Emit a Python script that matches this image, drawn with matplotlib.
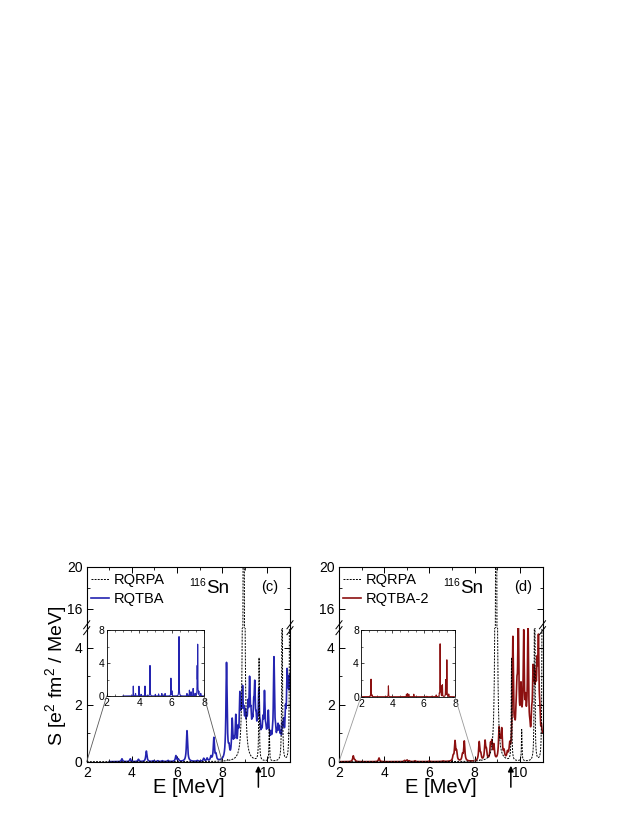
import numpy as np
import matplotlib.pyplot as plt
from matplotlib.lines import Line2D
from matplotlib.patches import ConnectionPatch
from matplotlib.ticker import FixedLocator, MultipleLocator

plt.rcParams['font.family'] = ['Liberation Sans', 'DejaVu Sans']
plt.rcParams['mathtext.fontset'] = 'custom'
plt.rcParams['mathtext.rm'] = 'Liberation Sans'
plt.rcParams['mathtext.it'] = 'Liberation Sans:italic'

# RQRPA peaks (same in both panels): energy [MeV], peak height
rqrpa_e = [8.25, 8.95, 9.63, 10.08, 10.65, 10.99]
rqrpa_s = [0.05, 90.0, 3.6, 1.1, 8.0, 10.0]

# panel (c): RQTBA, main plot
rqtba_e = [3.56, 3.93, 4.29, 4.64, 4.95, 5.15, 5.35, 5.6, 5.95, 6.05, 6.44, 6.9,
           7.18, 7.33, 7.5, 7.63, 7.72, 8.19, 8.3, 8.44, 8.52, 8.6, 8.7, 8.78,
           8.84, 8.9, 8.96, 9.02, 9.08, 9.14, 9.21, 9.27, 9.33, 9.39, 9.44, 9.5,
           9.56, 9.62, 9.68, 9.74, 9.8, 9.87, 9.93, 9.98, 10.04, 10.1, 10.16,
           10.22, 10.29, 10.36, 10.42, 10.47, 10.53, 10.59, 10.66, 10.72, 10.8,
           10.87, 10.93, 10.99]
rqtba_s = [0.10, 0.10, 0.08, 0.37, 0.03, 0.03, 0.03, 0.04, 0.20, 0.08, 1.08, 0.03,
           0.10, 0.10, 0.15, 0.80, 0.20, 3.40, 0.30, 1.30, 0.45, 1.35, 0.75, 1.90,
           0.95, 1.95, 1.05, 1.10, 0.85, 1.35, 2.30, 1.00, 0.75, 1.20, 2.05, 0.85,
           0.75, 2.00, 0.65, 0.55, 0.95, 2.00, 0.55, 0.45, 1.35, 0.45, 0.55,
           0.35, 3.35, 0.55, 0.45, 0.80, 0.75, 0.55, 0.85, 0.95, 1.25,
           2.45, 1.90, 2.45]
# panel (c): inset (low-energy part, fine resolution)
rqtba_ins_e = [3.64, 3.78, 3.99, 4.12, 4.36, 4.67, 5.0, 5.2, 5.4, 5.6, 5.96, 6.02,
               6.46, 6.95, 7.1, 7.2, 7.33, 7.45, 7.58, 7.61, 7.68, 7.8]
rqtba_ins_s = [1.2, 0.3, 1.18, 0.2, 1.2, 3.7, 0.2, 0.25, 0.3, 0.3, 2.15, 0.6,
               7.2, 0.3, 0.7, 0.5, 0.9, 0.3, 3.3, 6.05, 0.5, 0.3]

# panel (d): RQTBA-2, main plot
rqtba2_e = [2.63, 2.7, 3.77, 4.9, 5.0, 5.1, 5.36, 6.0, 6.6, 7.05, 7.13, 7.2,
            7.46, 7.54, 8.2, 8.27, 8.46, 8.52, 8.7, 8.76, 8.85, 9.08, 9.14, 9.2,
            9.3, 9.45, 9.55, 9.69, 9.77, 9.83, 9.87, 9.93, 10.0, 10.05, 10.11,
            10.17, 10.25, 10.3, 10.36, 10.44, 10.52, 10.58, 10.64, 10.7, 10.76,
            10.82, 10.88, 10.95, 11.0]
rqtba2_s = [0.20, 0.05, 0.13, 0.04, 0.05, 0.03, 0.03, 0.02, 0.02, 0.15, 0.67, 0.30,
            0.20, 0.69, 0.65, 0.20, 0.65, 0.30, 0.50, 0.58, 0.50, 1.03, 0.40, 0.97,
            0.25, 0.20, 0.40, 4.10, 0.50, 0.80, 1.50, 4.40, 0.40, 1.90, 0.50,
            3.95, 1.30, 0.40, 4.40, 0.50, 0.90, 2.40, 2.10, 1.80, 2.30,
            3.50, 1.00, 0.70, 0.60]
# panel (d): inset
rqtba2_ins_e = [2.64, 2.7, 3.75, 4.9, 4.97, 5.05, 5.37, 6.2, 6.5, 6.8, 7.0, 7.05,
                7.1, 7.2, 7.4, 7.48, 7.6]
rqtba2_ins_s = [2.1, 0.2, 1.3, 0.3, 0.35, 0.3, 0.3, 0.05, 0.05, 0.2, 0.3, 6.3,
                1.2, 1.4, 2.0, 4.4, 0.3]


def strength(grid, e, s, w):
    e = np.asarray(e)[:, None]
    s = np.asarray(s)[:, None]
    return (s * w ** 2 / ((grid[None, :] - e) ** 2 + w ** 2)).sum(axis=0)


W = 638
H = 825
fig = plt.figure(figsize=(W / 100, H / 100), dpi=100)


def fx(px):
    return px / W


def fy(py):
    return 1 - py / H


def breakmarks(ax):
    for xa in (0, 1):
        for dy in (-0.022, 0.022):
            ax.plot([xa - 0.015, xa + 0.015], [1 + dy - 0.03, 1 + dy + 0.03],
                    transform=ax.transAxes, color='k', lw=0.7, clip_on=False)


def panel(x0, x1, name, color, e_main, s_main, e_ins, s_ins, start, tag,
          ins_box, conn_color, sn_x, tag_x, ylabel):
    up = fig.add_axes([fx(x0), fy(627.7), fx(x1 - x0), fy(566.7) - fy(627.7)])
    lo = fig.add_axes([fx(x0), fy(761.7), fx(x1 - x0), fy(627.7) - fy(761.7)])

    g_rpa = np.arange(2.0, 11.2, 0.001)
    y_rpa = strength(g_rpa, rqrpa_e, rqrpa_s, 0.015)
    g = np.arange(start, 11.2, 0.002)
    y = strength(g, e_main, s_main, 0.03)

    for ax in (up, lo):
        ax.plot(g, y, color=color, lw=1.2)
        ax.plot(g_rpa, y_rpa, color='k', lw=0.7, ls=(0, (2.0, 1.2)))
        ax.set_xlim(2, 11)
        ax.xaxis.set_major_locator(MultipleLocator(2))
        ax.xaxis.set_minor_locator(MultipleLocator(1))
        ax.tick_params(which='both', direction='in', labelsize=10, pad=3)
        ax.tick_params(which='major', length=4, width=0.7)
        ax.tick_params(which='minor', length=2, width=0.6)
        for sp in ax.spines.values():
            sp.set_linewidth(0.8)

    up.set_ylim(14.23, 20)
    up.yaxis.set_major_locator(FixedLocator([16, 20]))
    up.yaxis.set_minor_locator(FixedLocator([18]))
    up.spines['bottom'].set_visible(False)
    up.tick_params(which='both', bottom=False, labelbottom=False, top=True, right=True)

    lo.set_ylim(0, 4.70)
    lo.yaxis.set_major_locator(MultipleLocator(2))
    lo.yaxis.set_minor_locator(MultipleLocator(1))
    lo.spines['top'].set_visible(False)
    lo.tick_params(which='both', top=False, right=True)
    lo.set_xlabel('E [MeV]', fontsize=14.5, labelpad=-1)
    breakmarks(lo)

    handles = [Line2D([], [], color='k', lw=0.7, ls=(0, (2.0, 1.2))),
               Line2D([], [], color=color, lw=1.2)]
    up.legend(handles, ['RQRPA', name], loc='upper left', bbox_to_anchor=(0.02, 0.89),
              frameon=False, fontsize=10.5, handlelength=1.25, handletextpad=0.3,
              labelspacing=0.3, borderpad=0, borderaxespad=0)

    fig.text(fx(sn_x), fy(593.3), 'Sn', fontsize=13.5, ha='left', va='baseline')
    fig.text(fx(sn_x), fy(586.5), '116', fontsize=7.5, ha='right', va='baseline')
    fig.text(fx(tag_x), fy(586.7), tag, fontsize=10.5, ha='left', va='center')

    # arrow below axis
    lo.annotate('', xy=(9.6, -0.03), xycoords=('data', 'axes fraction'),
                xytext=(9.6, -0.19), textcoords=('data', 'axes fraction'),
                arrowprops=dict(arrowstyle='-|>', color='k', lw=1.1,
                                mutation_scale=8, shrinkA=0, shrinkB=0))

    # inset
    l, t, r, b = ins_box
    ins = fig.add_axes([fx(l), fy(b), fx(r - l), fy(t) - fy(b)])
    gi = np.arange(start, 8.0, 0.0005)
    yi = strength(gi, e_ins, s_ins, 0.008)
    ins.plot(gi, yi, color=color, lw=0.8)
    ins.set_xlim(2, 8)
    ins.set_ylim(0, 8)
    ins.xaxis.set_major_locator(MultipleLocator(2))
    ins.xaxis.set_minor_locator(MultipleLocator(0.5))
    ins.yaxis.set_major_locator(MultipleLocator(4))
    ins.yaxis.set_minor_locator(MultipleLocator(2))
    ins.tick_params(which='both', direction='in', labelsize=7.5, pad=1.5,
                    top=True, right=True)
    ins.tick_params(which='major', length=2.5, width=0.5)
    ins.tick_params(which='minor', length=1.3, width=0.4)
    for sp in ins.spines.values():
        sp.set_linewidth(0.6)

    for xv in (2, 8):
        cp = ConnectionPatch(xyA=(xv, 0), coordsA=lo.transData,
                             xyB=(xv, 0), coordsB=ins.transData,
                             color=conn_color, lw=0.6)
        fig.add_artist(cp)

    if ylabel:
        fig.text(fx(56), fy(676), r'S [e$^2$ fm$^2$ / MeV]', fontsize=14,
                 rotation=90, ha='center', va='center')


panel(86.7, 290.0, 'RQTBA', '#2424b0', rqtba_e, rqtba_s, rqtba_ins_e, rqtba_ins_s,
      3.0, '(c)', (106.7, 630.0, 204.0, 696.0), '0.35', 205.7, 260.7, True)
panel(339.0, 542.5, 'RQTBA-2', '#8c1010', rqtba2_e, rqtba2_s, rqtba2_ins_e, rqtba2_ins_s,
      2.0, '(d)', (361.0, 630.0, 455.0, 696.7), '0.6', 460.0, 514.3, False)

fig.savefig('out.png', dpi=100)
